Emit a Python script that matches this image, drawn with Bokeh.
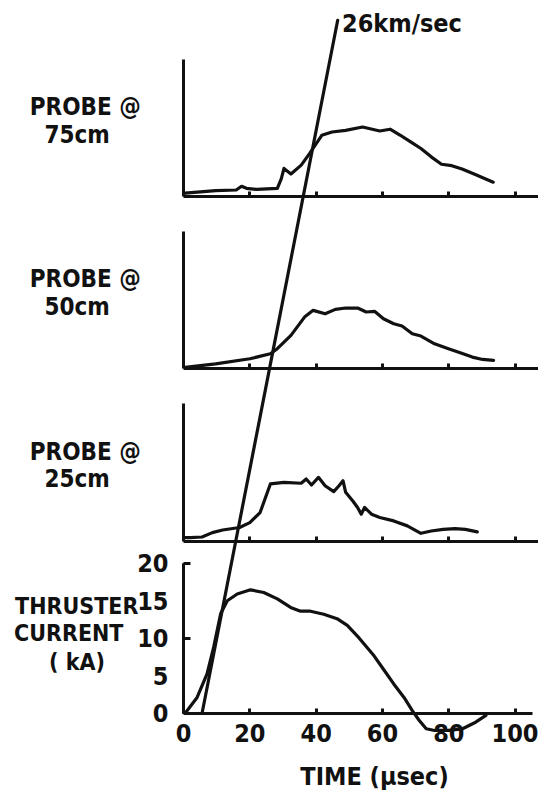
from bokeh.plotting import figure
from bokeh.models import Range1d, LinearAxis, FixedTicker, Label
from bokeh.embed import file_html
from bokeh.resources import INLINE

# ---------------- data ----------------
time_ticks = [0, 20, 40, 60, 80, 100]
probe_time_ticks = [20, 40, 60, 80, 100]
current_ticks = [0, 5, 10, 15, 20]
current_tickmarks = [10, 20]

probe_distances_cm = [75, 50, 25]
probe_names = ["75cm", "50cm", "25cm"]

probe75_t = [0.5, 9.7, 15.9, 17.5, 19.0, 22.0, 28.3, 29.5, 30.3, 32.4, 35.5, 38.0,
             41.7, 44.8, 48.9, 54.0, 59.2, 62.3, 65.4, 68.5, 71.6, 74.7, 77.8,
             80.9, 84.0, 88.0, 93.4]
probe75_v = [0.25, 0.43, 0.48, 0.75, 0.60, 0.53, 0.60, 1.30, 2.05, 1.64, 2.29, 3.13,
             4.46, 4.70, 4.82, 5.06, 4.77, 4.90, 4.46, 3.98, 3.50, 2.89, 2.35,
             2.25, 2.00, 1.60, 1.05]

probe50_t = [0.5, 9.7, 20.0, 26.2, 28.3, 32.4, 36.5, 39.1, 42.7, 45.8, 48.9, 52.5,
             55.1, 57.7, 60.3, 63.4, 65.9, 69.0, 71.6, 75.7, 79.9, 83.0, 87.1,
             90.2, 93.5]
probe50_v = [0.10, 0.36, 0.73, 1.09, 1.46, 2.43, 3.76, 4.25, 4.00, 4.32, 4.42, 4.42,
             4.13, 4.17, 3.64, 3.28, 3.11, 2.55, 2.38, 1.82, 1.46, 1.21, 0.85,
             0.68, 0.61]

probe25_t = [0.5, 2.0, 5.6, 8.7, 11.8, 16.9, 20.0, 23.1, 26.2, 30.3, 35.5, 37.0,
             38.6, 40.7, 42.7, 45.3, 46.9, 48.1, 48.9, 51.0, 52.5, 53.6, 54.6,
             56.7, 59.2, 63.4, 67.5, 71.6, 74.7, 78.3, 81.9, 85.0, 88.6]
probe25_v = [0.24, 0.24, 0.29, 0.61, 0.80, 0.98, 1.34, 2.07, 4.15, 4.27, 4.20, 4.51,
             4.07, 4.63, 4.02, 3.59, 4.02, 4.39, 3.54, 2.93, 2.44, 1.95, 2.44,
             1.95, 1.71, 1.46, 1.10, 0.56, 0.73, 0.85, 0.90, 0.85, 0.66]

current_t = [0.5, 4.1, 7.1, 9.1, 11.2, 13.2, 16.2, 20.2, 24.2, 28.3, 32.3, 35.3,
             38.3, 42.3, 46.3, 49.4, 53.0, 57.2, 60.3, 63.4, 66.5, 69.0, 71.1,
             73.2, 75.7, 79.9, 84.0, 88.1, 91.2]
current_ka = [0.0, 2.1, 5.25, 8.8, 13.25, 15.0, 15.9, 16.45, 16.1, 15.25, 14.1, 13.6,
              13.6, 13.2, 12.6, 11.7, 10.0, 7.8, 5.86, 3.9, 2.1, 0.35, -0.97,
              -2.07, -2.3, -2.3, -2.1, -1.2, -0.3]

# shock-front line: time (usec) vs distance (cm)
front_t = [5.6, 46.5]
front_d = [0.0, 100.6]
front_label = "26km/sec"

probe_series = {
    75: (probe75_t, probe75_v),
    50: (probe50_t, probe50_v),
    25: (probe25_t, probe25_v),
}

# ---------------- layout / style ----------------
FONT = "DejaVu Sans Condensed"
INK = "#111111"
W, H = 538, 798
ORIGIN_X = 183.0         # canvas x of time 0
PX_PER_US = 3.316
PX_PER_CM = 6.888
PX_PER_KA = 7.5
PX_PER_PROBE = 13.75
ZERO_PX = 712.7          # canvas y of distance 0 / current 0
PROBE_TOP = 10
PROBE_AXIS_END = 107.0
CURRENT_AXIS_END = 105.3


def make_range(zero_px, px_per_unit):
    # frame covers the whole canvas (no borders), so nothing gets clipped
    return Range1d(-(H - zero_px) / px_per_unit, zero_px / px_per_unit)


p = figure(width=W, height=H,
           x_range=Range1d(-ORIGIN_X / PX_PER_US, (W - ORIGIN_X) / PX_PER_US),
           y_range=make_range(ZERO_PX, PX_PER_CM),
           x_axis_type=None, y_axis_type=None,
           toolbar_location=None, output_backend="svg",
           min_border_left=0, min_border_right=0,
           min_border_top=0, min_border_bottom=0)
p.outline_line_color = None
p.background_fill_color = "white"
p.border_fill_color = "white"

p.extra_y_ranges["kA"] = make_range(ZERO_PX, PX_PER_KA)


def style_axis(ax):
    ax.axis_line_color = INK
    ax.axis_line_width = 3
    ax.major_tick_line_color = INK
    ax.major_tick_line_width = 3
    ax.minor_tick_line_color = None
    ax.major_label_text_font = FONT
    ax.major_label_text_font_style = "bold"
    ax.major_label_text_font_size = "25px"
    ax.major_label_text_color = INK


def label(text, x, y, rng="default", size="24px", align="center"):
    p.add_layout(Label(x=x, y=y, y_range_name=rng, text=text,
                       text_font=FONT, text_font_style="bold",
                       text_font_size=size, text_color=INK,
                       text_align=align, text_baseline="middle"))


# ---- probe panels ----
for d, name in zip(probe_distances_cm, probe_names):
    rn = f"p{d}"
    p.extra_y_ranges[rn] = make_range(ZERO_PX - d * PX_PER_CM, PX_PER_PROBE)
    t, v = probe_series[d]
    p.line(t, v, y_range_name=rn, line_color=INK, line_width=3.2,
           line_join="round", line_cap="round")

    xa = LinearAxis(y_range_name=rn, fixed_location=0, bounds=(0, PROBE_AXIS_END),
                    ticker=FixedTicker(ticks=probe_time_ticks))
    style_axis(xa)
    xa.major_tick_in = 5
    xa.major_tick_out = 0
    xa.major_label_text_color = None
    p.add_layout(xa, "below")

    ya = LinearAxis(y_range_name=rn, fixed_location=0, bounds=(0, PROBE_TOP),
                    ticker=FixedTicker(ticks=[]))
    style_axis(ya)
    ya.major_label_text_color = None
    p.add_layout(ya, "left")

    label("PROBE @", -29.6, 6.5, rn)
    label(name, -32.1, 4.5, rn)

# ---- thruster current panel ----
p.line(current_t, current_ka, y_range_name="kA", line_color=INK, line_width=3.2,
       line_join="round", line_cap="round")

bx = LinearAxis(y_range_name="kA", fixed_location=0, bounds=(0, CURRENT_AXIS_END),
                ticker=FixedTicker(ticks=time_ticks))
style_axis(bx)
bx.major_tick_in = 5
bx.major_tick_out = 0
bx.major_label_standoff = 11
p.add_layout(bx, "below")

by = LinearAxis(y_range_name="kA", fixed_location=0, bounds=(0, 20),
                ticker=FixedTicker(ticks=current_ticks))
style_axis(by)
by.major_tick_in = 0
by.major_tick_out = 0
by.major_label_standoff = 15
p.add_layout(by, "left")

bt = LinearAxis(y_range_name="kA", fixed_location=0, bounds=(0, 20),
                ticker=FixedTicker(ticks=current_tickmarks))
style_axis(bt)
bt.major_tick_in = 7
bt.major_tick_out = 0
bt.major_label_text_color = None
p.add_layout(bt, "left")

label("THRUSTER", -32.2, 14.25, "kA", size="23px")
label("CURRENT", -34.6, 10.7, "kA", size="23px")
label("( kA)", -32.1, 6.8, "kA", size="23px")
label("TIME (\u03bcsec)", 57.6, -8.5, "kA", size="25px")

# ---- velocity line ----
p.line(front_t, front_d, line_color=INK, line_width=3.2, line_cap="round")
label(front_label, front_t[-1] + 1.3, front_d[-1] - 0.4, size="25px", align="left")

open("out.html", "w").write(file_html(p, INLINE))
